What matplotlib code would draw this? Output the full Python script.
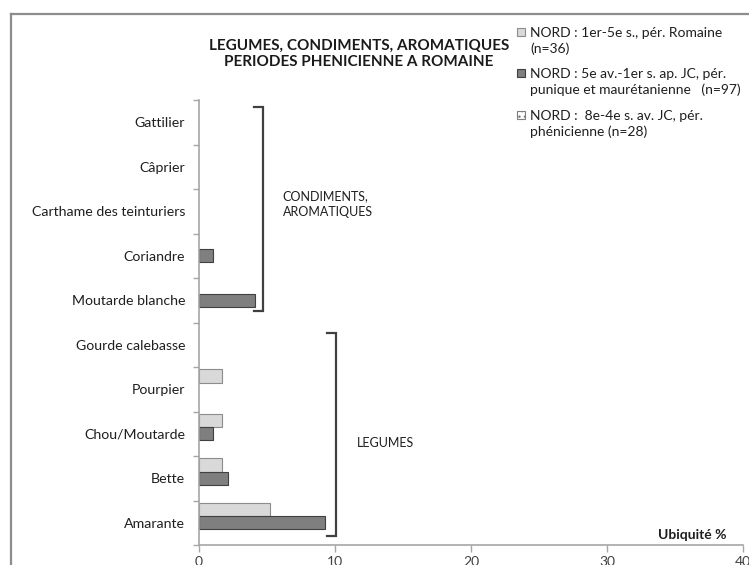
import matplotlib
matplotlib.use("Agg")
import matplotlib.pyplot as plt
from matplotlib.lines import Line2D
from matplotlib.patches import Rectangle
import numpy as np

plt.rcParams['font.family'] = ['Lato', 'DejaVu Sans']

categories = ["Gattilier", "Câprier", "Carthame des teinturiers", "Coriandre",
              "Moutarde blanche", "Gourde calebasse", "Pourpier", "Chou/Moutarde",
              "Bette", "Amarante"]
romaine = [0, 0, 0, 0, 0, 0, 1.7, 1.7, 1.7, 5.2]
punique = [0, 0, 0, 1.0, 4.1, 0, 0, 1.0, 2.1, 9.3]
phenicienne = [0, 0, 0, 0, 0, 0, 0, 0, 0, 0]
labels = ["NORD : 1er-5e s., pér. Romaine\n(n=36)",
          "NORD : 5e av.-1er s. ap. JC, pér.\npunique et maurétanienne   (n=97)",
          "NORD :  8e-4e s. av. JC, pér.\nphénicienne (n=28)"]
xticks = [0, 10, 20, 30, 40]

W, H = 749, 565
fig = plt.figure(figsize=(W / 100, H / 100), dpi=100)
ax = fig.add_axes([199 / W, (H - 545) / H, 544 / W, 445 / H])

n = len(categories)
ypos = np.arange(n)[::-1]  # first category on top
h = 0.30

def lws(vals):
    return [0.8 if v > 0 else 0 for v in vals]

styles = [dict(color='#d9d9d9', edgecolor='#8c8c8c', hatch=None),
          dict(color='#7f7f7f', edgecolor='#404040', hatch=None),
          dict(color='white', edgecolor='#7f7f7f', hatch='...')]

for vals, off, st in zip([romaine, punique, phenicienne], [h, 0, -h], styles):
    ax.barh(ypos + off, vals, height=h, color=st['color'], edgecolor=st['edgecolor'],
            hatch=st['hatch'], linewidth=lws(vals))

ax.set_xlim(0, 40)
ax.set_ylim(-0.5, n - 0.5)
ax.set_xticks(xticks)
ax.set_xticklabels([str(t) for t in xticks], fontsize=10, color='#404040')
ax.set_yticks(ypos)
ax.set_yticklabels(categories, fontsize=10.2, color='#1f1f1f')
ax.tick_params(axis='y', length=0, pad=10)
ax.set_yticks(np.arange(-0.5, n, 1.0), minor=True)
ax.tick_params(axis='y', which='minor', length=4, color='#a6a6a6', width=1)
ax.tick_params(axis='x', length=5, color='#a6a6a6', width=1, pad=3)
for s in ['top', 'right']:
    ax.spines[s].set_visible(False)
for s in ['left', 'bottom']:
    ax.spines[s].set_color('#a6a6a6')
    ax.spines[s].set_linewidth(1.2)

# brackets
def bracket(x0, x1, y0, y1):
    ax.plot([x0, x1, x1, x0], [y1, y1, y0, y0], color='#404040', lw=1.6,
            solid_joinstyle='miter', clip_on=False)

bracket(4.05, 4.7, 4.76, 9.34)
bracket(9.4, 10.07, -0.30, 4.26)
ax.text(6.15, (522.75 - 204) / 44.5, "CONDIMENTS,\nAROMATIQUES", fontsize=9,
        color='#1f1f1f', va='center', ha='left', linespacing=1.45)
ax.text(11.6, (522.75 - 443) / 44.5, "LEGUMES", fontsize=9, color='#1f1f1f',
        va='center', ha='left')

fig.text(727 / W, 1 - 535 / H, "Ubiquité %", fontsize=10, fontweight='bold',
         ha='right', va='center', color='#1f1f1f')

fig.text(359 / W, 1 - 54 / H, "LEGUMES, CONDIMENTS, AROMATIQUES\nPERIODES PHENICIENNE A ROMAINE",
         fontsize=11, fontweight='bold', ha='center', va='center', linespacing=1.2,
         color='#1a1a1a')

# legend (manual, Excel-like: marker aligned with first text line)
first_rows = [32, 73, 115]
for lab, st, yr in zip(labels, styles, first_rows):
    fig.add_artist(Rectangle((517 / W, 1 - (yr + 4) / H), 8 / W, 8 / H,
                             transform=fig.transFigure, facecolor=st['color'],
                             edgecolor=st['edgecolor'], hatch=st['hatch'], lw=0.8))
    fig.text(530 / W, 1 - (yr + 9) / H, lab, fontsize=10, color='#1f1f1f',
             ha='left', va='center', linespacing=1.3)

# outer chart border (cropped frame)
fig.add_artist(Line2D([11 / W, 11 / W], [0, 1 - 14 / H], transform=fig.transFigure,
                      color='#8c8c8c', lw=1.6))
fig.add_artist(Line2D([11 / W, 1], [1 - 14 / H, 1 - 14 / H], transform=fig.transFigure,
                      color='#8c8c8c', lw=1.6))

fig.savefig("out.png", dpi=100)
